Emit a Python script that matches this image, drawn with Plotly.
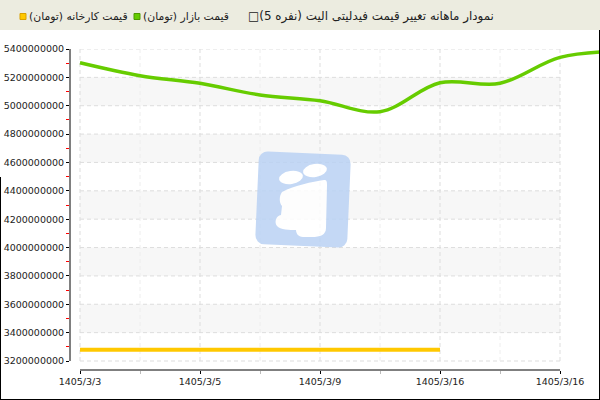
import base64
import plotly.graph_objects as go

# ---------------- data ----------------
x_labels = ["1405/3/3", "1405/3/5", "1405/3/9", "1405/3/16", "1405/3/16"]
x_major = [0, 1, 2, 3, 4]
x_minor = [0.5, 1.5, 2.5, 3.5]

market_name = "قیمت بازار (تومان)"
market_pos = [0, 0.5, 1, 1.5, 2, 2.5, 3, 3.5, 4, 4.5]
market_vals = [5303e6, 5212e6, 5158e6, 5076e6, 5035e6, 4958e6, 5162e6, 5158e6, 5341e6, 5385e6]

factory_name = "قیمت کارخانه (تومان)"
factory_pos = [0, 1, 2, 3]
factory_vals = [3280e6, 3280e6, 3280e6, 3280e6]

y_ticks = [3200e6 + 200e6 * i for i in range(12)]
y_minor = [3300e6 + 200e6 * i for i in range(11)]

title_main = "نمودار ماهانه تغییر قیمت فیدلیتی الیت"
title_seats = "5 نفره"

# ---------------- geometry helpers (pixel -> paper) ----------------
W, H = 600, 400
L, R, T, B = 70, 0, 49, 30
PW, PH = W - L - R, H - T - B
def px(x):
    return (x - L) / PW
def py(y):
    return (H - B - y) / PH

x_unit = 120.0
x_range = [-(80 - L) / x_unit, (W - R - 80) / x_unit]
y_per_px = (y_ticks[-1] - y_ticks[0]) / 312.0
y_range = [y_ticks[0] - (H - B - 361) * y_per_px, y_ticks[-1]]

FONT = "DejaVu Sans"

fig = go.Figure()
fig.add_trace(go.Scatter(x=factory_pos, y=factory_vals, mode="lines", name=factory_name,
                         line=dict(color="#FFC800", width=4), showlegend=False, hoverinfo="skip"))
fig.add_trace(go.Scatter(x=market_pos, y=market_vals, mode="lines", name=market_name,
                         line=dict(color="#66CC00", width=3.5, shape="spline", smoothing=1.0),
                         showlegend=False, hoverinfo="skip"))

shapes = []
# title bar
shapes.append(dict(type="rect", xref="paper", yref="paper", x0=px(0), x1=px(W), y0=py(30), y1=py(0),
                   fillcolor="#ECECE0", line=dict(width=0), layer="below"))
# alternating bands
for i in range(1, len(y_ticks) - 1, 2):
    shapes.append(dict(type="rect", xref="x", yref="y", x0=x_major[0], x1=x_major[-1],
                       y0=y_ticks[i], y1=y_ticks[i + 1], fillcolor="#F7F7F7",
                       line=dict(width=0), layer="below"))
# grid lines
for yv in y_ticks:
    shapes.append(dict(type="line", xref="x", yref="y", x0=x_major[0], x1=x_major[-1], y0=yv, y1=yv,
                       line=dict(color="#DDDDDD", width=1, dash="4px,3px"), layer="below"))
for xv in x_major:
    shapes.append(dict(type="line", xref="x", yref="y", x0=xv, x1=xv, y0=y_ticks[0], y1=y_ticks[-1],
                       line=dict(color="#DDDDDD", width=1, dash="4px,3px"), layer="below"))
for xv in x_minor:
    shapes.append(dict(type="line", xref="x", yref="y", x0=xv, x1=xv, y0=y_ticks[0], y1=y_ticks[-1],
                       line=dict(color="#EEEEEE", width=1, dash="4px,3px"), layer="below"))
# axis lines (offset style)
shapes.append(dict(type="line", xref="paper", yref="y", x0=0, x1=0, y0=y_ticks[0], y1=y_ticks[-1],
                   line=dict(color="black", width=1)))
shapes.append(dict(type="line", xref="x", yref="paper", x0=x_major[0], x1=x_major[-1], y0=0, y1=0,
                   line=dict(color="black", width=1)))
# frame
shapes.append(dict(type="line", xref="paper", yref="paper", x0=px(599.5), x1=px(599.5), y0=py(30), y1=py(400),
                   line=dict(color="black", width=1)))
shapes.append(dict(type="line", xref="paper", yref="paper", x0=px(0), x1=px(600), y0=py(399.5), y1=py(399.5),
                   line=dict(color="black", width=1)))
shapes.append(dict(type="line", xref="paper", yref="paper", x0=px(0.5), x1=px(0.5), y0=py(177), y1=py(400),
                   line=dict(color="black", width=1)))
# legend squares
shapes.append(dict(type="rect", xref="paper", yref="paper", x0=px(20), x1=px(26), y0=py(19.5), y1=py(13.5),
                   fillcolor="#FFC800", line=dict(color="#D9A000", width=1)))
shapes.append(dict(type="rect", xref="paper", yref="paper", x0=px(134), x1=px(140), y0=py(19.5), y1=py(13.5),
                   fillcolor="#66CC00", line=dict(color="#4D9900", width=1)))

RLE, LRE, PDF = "\u202b", "\u202a", "\u202c"
def rtl(s):
    return RLE + s + PDF

title_vis = RLE + title_main + " (" + LRE + title_seats + PDF + ")□" + PDF

TITLE_FONT = dict(family=FONT, size=11.9, color="#222")
LEG_FONT = dict(family=FONT, size=10.8, color="#222")
annotations = [
    dict(xref="paper", yref="paper", x=px(496), y=py(16), xanchor="right", yanchor="middle",
         text=title_vis, showarrow=False, font=TITLE_FONT),
    dict(xref="paper", yref="paper", x=px(27), y=py(16), xanchor="left", yanchor="middle",
         text=rtl(factory_name), showarrow=False, font=LEG_FONT),
    dict(xref="paper", yref="paper", x=px(141), y=py(16), xanchor="left", yanchor="middle",
         text=rtl(market_name), showarrow=False, font=LEG_FONT),
]

# watermark (decorative logo)
svg = """<svg xmlns='http://www.w3.org/2000/svg' width='600' height='400' viewBox='0 0 600 400'>
<g transform='rotate(2.5 303 200)'><rect x='257' y='153' width='92' height='93' rx='9' fill='#BAD2F4'/></g>
<ellipse cx='291' cy='177.5' rx='12' ry='6.5' transform='rotate(-8 291 177.5)' fill='white'/>
<ellipse cx='315' cy='170.5' rx='12' ry='6.5' transform='rotate(-8 315 170.5)' fill='white'/>
<path d='M 282 192 C 295 185 312 182 324 180 C 327 180 327 182 327 185 L 326 228 C 326 235 320 237 312 237 L 303 237 C 298 237 296 233 296 230 C 290 230 280 230 277 226 C 274 222 276 216 281 215 L 282 206 C 279 203 279 196 282 192 Z' fill='white'/>
</svg>"""
src = "data:image/svg+xml;base64," + base64.b64encode(svg.encode()).decode()

fig.update_layout(
    width=W, height=H,
    margin=dict(l=L, r=R, t=T, b=B, pad=0, autoexpand=False),
    paper_bgcolor="white", plot_bgcolor="white",
    showlegend=False, hovermode=False,
    shapes=shapes, annotations=annotations,
    images=[dict(source=src, xref="paper", yref="paper", x=px(0), y=py(0), sizex=W / PW, sizey=H / PH,
                 xanchor="left", yanchor="top", sizing="stretch", layer="above", opacity=0.85)],
    xaxis=dict(range=x_range, tickmode="array", tickvals=x_major, ticktext=x_labels,
               showgrid=False, zeroline=False, showline=False, automargin=False, fixedrange=True,
               ticks="outside", ticklen=3, tickcolor="black",
               minor=dict(tickmode="array", tickvals=x_minor, ticks="outside", ticklen=3,
                          tickcolor="#BBBBBB", showgrid=False),
               tickfont=dict(family=FONT, size=9.5, color="#222")),
    yaxis=dict(range=y_range, tickmode="array", tickvals=y_ticks,
               ticktext=[f"{int(v)}" for v in y_ticks], automargin=False, fixedrange=True,
               showgrid=False, zeroline=False, showline=False,
               ticks="outside", ticklen=3, tickcolor="black",
               minor=dict(tickmode="array", tickvals=y_minor, ticks="outside", ticklen=3,
                          tickcolor="red", showgrid=False),
               tickfont=dict(family=FONT, size=9.5, color="#222")),
)

fig.write_html("out.html", config={"displayModeBar": False},
               post_script="document.body.style.margin='0';")
